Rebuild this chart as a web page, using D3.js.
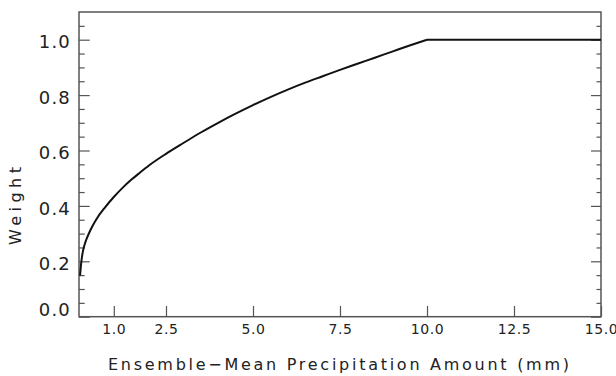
<!DOCTYPE html>
<html>
<head>
<meta charset="utf-8">
<script src="https://cdn.jsdelivr.net/npm/d3@7"></script>
<style>
  html, body { margin: 0; padding: 0; background: #fff; }
  svg { display: block; }
  text { font-family: "DejaVu Sans", sans-serif; fill: #222; }
</style>
</head>
<body>
<svg id="chart" width="616" height="376"></svg>
<script>
// Weight as a function of ensemble-mean precipitation amount
const precipAmount = [0.03, 0.06, 0.1, 0.15, 0.2, 0.3, 0.4, 0.5, 0.75, 1.0, 1.25, 1.5, 1.75, 2.0, 2.5, 3.0, 3.5, 4.0, 4.5,
                      5.0, 5.5, 6.0, 6.5, 7.0, 7.5, 8.0, 8.5, 9.0, 9.5, 10.0, 15.0];
const weightValue  = [0.148, 0.19, 0.228, 0.255, 0.275, 0.305, 0.33, 0.352, 0.395, 0.432, 0.465, 0.494, 0.52, 0.545,
                      0.588, 0.627, 0.665, 0.700, 0.733,
                      0.764, 0.793, 0.820, 0.845, 0.868, 0.891, 0.913, 0.935, 0.957, 0.979, 1.0, 1.0];
const xTicks = [1.0, 2.5, 5.0, 7.5, 10.0, 12.5, 15.0];
const yTicks = [0.0, 0.2, 0.4, 0.6, 0.8, 1.0];
const yMinorTicks = [0.05, 0.1, 0.15, 0.25, 0.3, 0.35, 0.45, 0.5, 0.55, 0.65, 0.7, 0.75, 0.85, 0.9, 0.95, 1.05];
const xTitle = "Ensemble\u2212Mean Precipitation Amount (mm)";
const yTitle = "Weight";

const svg = d3.select("#chart");
const L = 79, R = 601, T = 12, B = 316.7;

const x = d3.scaleLinear().domain([0, 15]).range([L, R]);
const y = d3.scaleLinear().domain([0, 1.1]).range([B, T]);

const axisColor = "#555";

// bottom axis: ticks point into the plot
const gx = svg.append("g").attr("transform", `translate(0,${B})`)
  .call(d3.axisBottom(x).tickValues(xTicks).tickFormat(d3.format(".1f"))
        .tickSizeInner(-10.7).tickSizeOuter(0).tickPadding(7.4));
gx.select(".domain").remove();
gx.selectAll(".tick line").attr("stroke", axisColor).attr("stroke-width", 1.2);
gx.selectAll(".tick text").style("font-size", "14px").style("letter-spacing", "0.6px")
  .attr("fill", "#222");

// left axis with labels
const gy = svg.append("g").attr("transform", `translate(${L},0)`)
  .call(d3.axisLeft(y).tickValues(yTicks).tickFormat(d3.format(".1f"))
        .tickSizeInner(-10.7).tickSizeOuter(0).tickPadding(8));
gy.select(".domain").remove();
gy.selectAll(".tick line").attr("stroke", axisColor).attr("stroke-width", 1.2);
gy.selectAll(".tick text").style("font-size", "18px").style("letter-spacing", "1.2px")
  .attr("fill", "#222")
  .attr("dy", d => d === 0 ? "-0.05em" : "0.45em");

const gyMinor = svg.append("g").attr("transform", `translate(${L},0)`)
  .call(d3.axisLeft(y).tickValues(yMinorTicks).tickFormat("")
        .tickSizeInner(-5.7).tickSizeOuter(0));
gyMinor.select(".domain").remove();
gyMinor.selectAll(".tick line").attr("stroke", axisColor).attr("stroke-width", 1.2);

// right axis, ticks only
const gr = svg.append("g").attr("transform", `translate(${R},0)`)
  .call(d3.axisRight(y).tickValues(yTicks).tickFormat("")
        .tickSizeInner(-10).tickSizeOuter(0));
gr.select(".domain").remove();
gr.selectAll(".tick line").attr("stroke", axisColor).attr("stroke-width", 1.2);
const grMinor = svg.append("g").attr("transform", `translate(${R},0)`)
  .call(d3.axisRight(y).tickValues(yMinorTicks).tickFormat("")
        .tickSizeInner(-4.5).tickSizeOuter(0));
grMinor.select(".domain").remove();
grMinor.selectAll(".tick line").attr("stroke", axisColor).attr("stroke-width", 1.2);

// plot frame
svg.append("rect")
  .attr("x", L).attr("y", T).attr("width", R - L).attr("height", B - T)
  .attr("fill", "none").attr("stroke", axisColor).attr("stroke-width", 1.5);

// weight curve: smooth rise up to 10 mm, then a flat plateau
const pts = precipAmount.map((p, i) => [p, weightValue[i]]);
const riseEnd = precipAmount.indexOf(10.0);
const rising = pts.slice(0, riseEnd + 1);
const plateau = pts.slice(riseEnd);

svg.append("path").datum(rising)
  .attr("fill", "none").attr("stroke", "#111").attr("stroke-width", 2)
  .attr("d", d3.line().x(d => x(d[0])).y(d => y(d[1])).curve(d3.curveMonotoneX));
svg.append("path").datum(plateau)
  .attr("fill", "none").attr("stroke", "#111").attr("stroke-width", 2)
  .attr("d", d3.line().x(d => x(d[0])).y(d => y(d[1])));

// axis titles
svg.append("text")
  .attr("x", 108).attr("y", 370)
  .attr("textLength", 461).attr("lengthAdjust", "spacing")
  .style("font-size", "16px")
  .text(xTitle);

svg.append("text")
  .attr("transform", "translate(20.5,245) rotate(-90)")
  .attr("textLength", 78).attr("lengthAdjust", "spacing")
  .style("font-size", "16px")
  .text(yTitle);
</script>
</body>
</html>
